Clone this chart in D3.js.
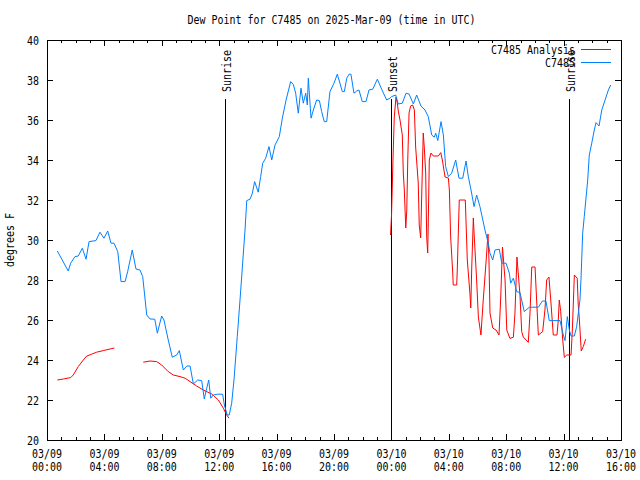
<!DOCTYPE html>
<html>
<head>
<meta charset="utf-8">
<script src="https://cdn.jsdelivr.net/npm/d3@7"></script>
<style>
  html, body { margin: 0; padding: 0; background: #fff; }
  svg { display: block; }
  text { font-family: "DejaVu Sans Mono", "Liberation Mono", monospace; font-size: 12px; fill: #000; }
</style>
</head>
<body>
<script>
// ---------- data (hours after 2025-03-09 00:00 UTC) ----------
const blueHours = [0.72,1.48,1.65,1.95,2.18,2.46,2.72,2.93,3.41,3.69,
  3.97,4.23,4.46,4.67,4.93,5.16,5.44,5.62,5.94,6.2,
  6.48,6.67,6.95,7.18,7.51,7.69,7.99,8.15,8.45,8.73,
  9.04,9.22,9.5,9.74,9.97,10.2,10.5,10.78,10.96,11.13,
  11.27,11.41,11.59,11.9,12.24,12.36,12.56,12.7,12.87,13.03,
  13.26,13.45,13.8,13.92,14.15,14.31,14.47,14.72,14.89,15.03,
  15.24,15.47,15.66,15.89,16.19,16.4,16.66,16.98,17.16,17.33,
  17.51,17.7,17.86,18.03,18.14,18.21,18.4,18.56,18.79,18.98,
  19.14,19.32,19.49,19.72,20.0,20.23,20.37,20.58,20.72,20.89,
  21.05,21.18,21.39,21.58,21.74,21.97,22.23,22.44,22.7,23.02,
  23.32,23.67,23.9,24.02,24.3,24.48,24.76,25.02,25.23,25.53,
  25.76,26.06,26.34,26.57,26.81,26.99,27.09,27.23,27.46,27.62,
  27.78,27.97,28.2,28.48,28.71,28.97,29.2,29.36,29.55,29.76,
  29.94,30.17,30.52,30.75,30.87,31.06,31.22,31.52,31.69,31.99,
  32.22,32.31,32.5,32.73,32.96,33.26,33.61,34.24,34.52,34.77,
  35.0,35.75,35.98,36.1,36.26,36.4,36.52,36.75,36.91,37.14,
  37.21,37.33,37.44,37.56,37.68,37.79,37.96,38.14,38.26,38.47,38.66,38.89,39.12,39.28];
const blueValues = [29.45,28.45,28.84,29.17,29.2,29.59,29.04,29.92,29.97,30.39,
  30.09,30.45,29.84,29.84,29.42,27.92,27.92,28.42,29.5,28.55,
  28.5,28.17,26.25,26.05,26.04,25.34,26.2,26.0,25.0,24.14,
  24.25,24.47,23.5,23.7,23.7,22.8,23.0,22.97,22.05,22.59,
  23.0,22.09,22.25,22.29,22.29,21.75,21.25,21.25,21.84,23.0,
  25.17,27.0,30.5,31.97,32.04,32.34,32.92,32.39,33.17,33.84,
  34.09,34.67,34.0,34.75,35.17,36.09,37.0,37.92,37.79,37.34,
  36.34,37.59,36.84,37.34,36.75,38.09,36.09,36.5,37.0,36.97,
  36.42,35.92,35.92,37.42,37.84,38.29,37.95,37.42,37.42,38.09,
  38.29,38.29,37.34,37.45,37.5,36.92,36.92,37.5,37.54,38.04,
  37.54,37.0,37.09,37.17,37.25,36.8,36.84,37.34,37.3,36.8,
  37.25,36.7,36.5,36.17,35.25,35.14,35.34,34.97,35.92,35.25,
  33.67,33.17,33.34,34.0,33.09,33.09,33.95,33.17,32.5,31.67,
  32.25,31.67,30.5,29.84,29.34,29.0,29.5,29.54,28.84,28.84,
  28.34,27.84,28.09,27.42,27.37,26.42,26.64,26.64,26.95,26.95,
  25.97,25.97,25.25,24.97,26.17,25.5,25.2,25.2,25.67,27.0,
  28.0,30.34,31.17,32.09,33.0,34.25,34.84,35.5,35.87,35.7,36.5,37.0,37.5,37.75];

const redHours = [0.72,1.14,1.65,1.83,2.18,2.53,2.77,3.11,3.46,3.92,4.39,4.69,
  5.7,
  6.71,7.18,7.64,7.99,8.45,8.8,9.27,9.62,9.97,10.43,10.89,11.48,11.94,12.29,12.52,12.68,
  18.0,
  23.94,24.01,24.11,24.2,24.32,24.41,24.48,24.6,24.76,24.83,
  24.9,25.0,25.07,25.14,25.23,25.34,25.48,25.6,25.69,25.87,
  25.94,26.04,26.11,26.22,26.29,26.39,26.46,26.53,26.6,26.64,
  26.76,26.92,27.27,27.44,27.55,27.74,27.97,28.04,28.13,28.27,
  28.31,28.55,28.59,28.73,29.15,29.29,29.48,29.53,29.6,29.71,
  29.78,29.94,30.06,30.24,30.4,30.59,30.73,30.8,30.87,31.06,
  31.29,31.5,31.62,31.74,31.92,32.04,32.26,32.5,32.61,32.75,
  32.96,33.08,33.19,33.54,33.66,33.78,34.01,34.13,34.24,34.54,
  34.7,34.82,34.98,35.12,35.28,35.54,35.63,35.7,35.8,35.94,
  36.05,36.22,36.52,36.61,36.75,36.95,37.02,37.1,37.23,37.37,
  37.54];
const redValues = [23.0,23.05,23.12,23.25,23.67,24.0,24.2,24.29,24.39,24.47,24.55,24.6,
  null,
  23.89,23.95,23.92,23.75,23.42,23.25,23.17,23.09,22.92,22.7,22.5,22.3,22.0,21.59,21.25,21.09,
  null,
  30.25,31.25,34.0,36.15,37.15,36.85,36.45,36.0,35.25,33.35,
  32.5,30.6,31.45,34.0,36.35,36.7,36.75,36.5,34.65,32.85,
  30.75,30.1,32.15,35.35,34.65,33.35,30.15,29.35,32.15,34.0,
  34.35,34.2,34.2,34.37,34.0,33.15,33.1,32.5,30.15,28.4,
  27.75,27.75,28.5,32.0,32.0,29.0,27.25,26.6,28.65,31.1,
  30.1,28.0,26.15,25.25,27.0,28.85,30.3,29.0,26.35,25.6,
  25.5,25.25,27.15,29.65,28.0,25.5,25.08,25.14,26.35,29.15,
  27.25,25.42,25.15,24.88,26.35,28.65,28.65,26.85,25.25,25.42,
  26.5,28.0,28.15,26.85,25.25,25.25,26.0,27.0,26.42,25.0,
  24.13,24.25,24.25,25.5,28.25,28.09,26.75,26.0,24.45,24.67,
  25.04];

const sunLabels = ["Sunrise", "Sunset", "Sunrise"];
const sunHours = [12.42, 23.95, 36.4];

const seriesNames = ["C7485 Analysis", "C7485"];
const seriesColors = ["#ff0000", "#0080ff"];
const yTicks = [20,22,24,26,28,30,32,34,36,38,40];

const titleText = "Dew Point for C7485 on 2025-Mar-09 (time in UTC)";
const yLabelText = "degrees F";

// ---------- setup ----------
const W = 640, H = 480;
const m = { left: 47, right: 621, top: 40, bottom: 440 };
const t0 = Date.UTC(2025, 2, 9, 0, 0);
const toDate = h => new Date(t0 + h * 3600 * 1000);

const svg = d3.select("body").append("svg").attr("width", W).attr("height", H);
svg.append("rect").attr("width", W).attr("height", H).attr("fill", "#fff");

const x = d3.scaleUtc().domain([toDate(0), toDate(40)]).range([m.left, m.right]);
const y = d3.scaleLinear().domain([20, 40]).range([m.bottom, m.top]);

function label(sel, str) {
  sel.text(str).attr("textLength", str.length * 6).attr("lengthAdjust", "spacingAndGlyphs");
  return sel;
}

// axes (inward ticks, mirrored)
const major = d3.utcHour.every(4), minor = d3.utcHour.every(1);
const axG = svg.append("g").attr("shape-rendering", "crispEdges");
function axisDraw(gen, transform) {
  const g = axG.append("g").attr("transform", transform).call(gen);
  g.select(".domain").remove();
  g.selectAll("text").remove();
  g.selectAll("line").attr("stroke", "#000");
  return g;
}
axisDraw(d3.axisBottom(x).ticks(minor).tickSize(-3).tickFormat(""), `translate(0,${m.bottom})`);
axisDraw(d3.axisBottom(x).ticks(major).tickSize(-6).tickFormat(""), `translate(0,${m.bottom})`);
axisDraw(d3.axisTop(x).ticks(minor).tickSize(-3).tickFormat(""), `translate(0,${m.top})`);
axisDraw(d3.axisTop(x).ticks(major).tickSize(-6).tickFormat(""), `translate(0,${m.top})`);
axisDraw(d3.axisLeft(y).tickValues(yTicks).tickSize(-6).tickFormat(""), `translate(${m.left},0)`);
axisDraw(d3.axisRight(y).tickValues(yTicks).tickSize(-6).tickFormat(""), `translate(${m.right},0)`);

axG.append("rect")
  .attr("x", m.left).attr("y", m.top)
  .attr("width", m.right - m.left).attr("height", m.bottom - m.top)
  .attr("fill", "none").attr("stroke", "#000");

// tick labels
const fmtD = d3.utcFormat("%m/%d"), fmtT = d3.utcFormat("%H:%M");
x.ticks(major).forEach(d => {
  label(svg.append("text").attr("x", x(d)).attr("y", 458).attr("text-anchor", "middle"), fmtD(d));
  label(svg.append("text").attr("x", x(d)).attr("y", 471).attr("text-anchor", "middle"), fmtT(d));
});
yTicks.forEach(v => {
  label(svg.append("text").attr("x", 39).attr("y", y(v) + 4.5).attr("text-anchor", "end"), String(v));
});

// title & y label
label(svg.append("text").attr("x", 331.5).attr("y", 24).attr("text-anchor", "middle"), titleText);
label(svg.append("text").attr("transform", `translate(14,240) rotate(-90)`).attr("text-anchor", "middle"), yLabelText);

// sun lines
sunHours.forEach((h, i) => {
  const xx = Math.round(x(toDate(h))) + 0.5;
  svg.append("line").attr("x1", xx).attr("x2", xx).attr("y1", 99).attr("y2", m.bottom)
    .attr("stroke", "#000").attr("shape-rendering", "crispEdges");
  label(svg.append("text").attr("transform", `translate(${xx + 5},92) rotate(-90)`), sunLabels[i]);
});

// series
const clip = svg.append("clipPath").attr("id", "clip").append("rect")
  .attr("x", m.left).attr("y", m.top).attr("width", m.right - m.left).attr("height", m.bottom - m.top);

const line = d3.line()
  .defined(d => d[1] !== null)
  .x(d => x(toDate(d[0])))
  .y(d => y(d[1]));

const redData = redHours.map((h, i) => [h, redValues[i]]);
const blueData = blueHours.map((h, i) => [h, blueValues[i]]);

svg.append("path").datum(redData).attr("d", line)
  .attr("fill", "none").attr("stroke", seriesColors[0]).attr("stroke-width", 1)
  .attr("clip-path", "url(#clip)");
svg.append("path").datum(blueData).attr("d", line)
  .attr("fill", "none").attr("stroke", seriesColors[1]).attr("stroke-width", 1)
  .attr("clip-path", "url(#clip)");

// legend
const legY = [49.5, 62.5];
seriesNames.forEach((name, i) => {
  label(svg.append("text").attr("x", 575).attr("y", legY[i] + 4.5).attr("text-anchor", "end"), name);
  svg.append("line").attr("x1", 581).attr("x2", 611).attr("y1", legY[i]).attr("y2", legY[i])
    .attr("stroke", seriesColors[i]).attr("stroke-width", 1);
});
</script>
</body>
</html>
